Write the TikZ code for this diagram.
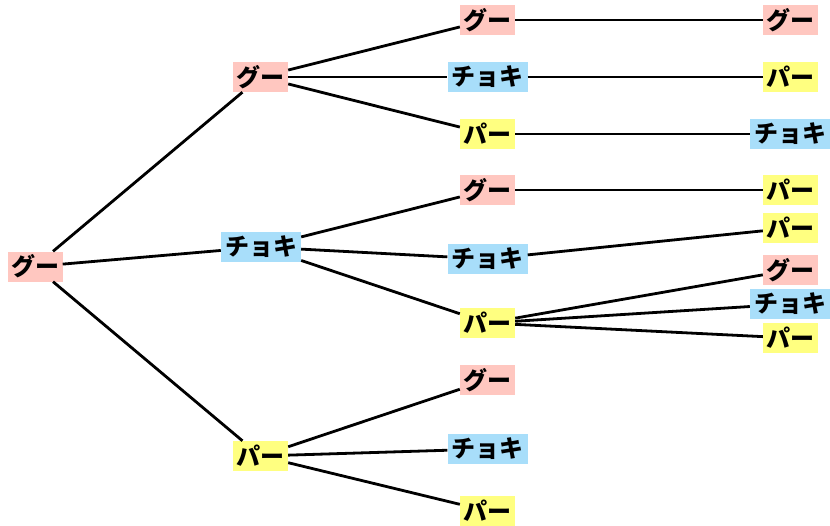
\documentclass[tikz,border=0pt]{standalone}
\usepackage{fontspec}
\newfontfamily\jp{Noto Sans CJK JP}
\definecolor{gpink}{RGB}{255,199,192}
\definecolor{cblue}{RGB}{168,222,250}
\definecolor{pyel}{RGB}{255,255,128}
\tikzset{
  hand/.style={inner sep=0pt, minimum height=30pt, font=\jp\bfseries\fontsize{24}{26}\selectfont, text=black},
  gu/.style={hand, fill=gpink, minimum width=55pt},
  choki/.style={hand, fill=cblue, minimum width=80pt},
  pa/.style={hand, fill=pyel, minimum width=55pt},
  edge/.style={line width=2.8pt, black}
}
\begin{document}
\begin{tikzpicture}[x=1pt,y=-1pt]
\useasboundingbox (0,0) rectangle (830,525);
\node[gu] (r) at (35,266.5) {グー};
\node[gu] (a) at (260.5,77) {グー};
\node[choki] (b) at (261,247) {チョキ};
\node[pa] (c) at (260.5,456) {パー};
\node[gu] (a1) at (487.5,20) {グー};
\node[choki] (a2) at (487.5,77) {チョキ};
\node[pa] (a3) at (487.5,134) {パー};
\node[gu] (b1) at (487.5,190) {グー};
\node[choki] (b2) at (487.5,259) {チョキ};
\node[pa] (b3) at (487.5,323) {パー};
\node[gu] (c1) at (487.5,380) {グー};
\node[choki] (c2) at (487.5,449) {チョキ};
\node[pa] (c3) at (487.5,511) {パー};
\node[gu] (a1x) at (790.5,20) {グー};
\node[pa] (a2x) at (790.5,77) {パー};
\node[choki] (a3x) at (790,134) {チョキ};
\node[pa] (b1x) at (790.5,190) {パー};
\node[pa] (b2x) at (790.5,228) {パー};
\node[gu] (b3g) at (790.5,270) {グー};
\node[choki] (b3c) at (790,304) {チョキ};
\node[pa] (b3p) at (790.5,338) {パー};
\draw[edge] (r) -- (a);
\draw[edge] (r) -- (b);
\draw[edge] (r) -- (c);
\draw[edge] (a) -- (a1);
\draw[edge] (a) -- (a2);
\draw[edge] (a) -- (a3);
\draw[edge] (b) -- (b1);
\draw[edge] (b) -- (b2);
\draw[edge] (b) -- (b3);
\draw[edge] (c) -- (c1);
\draw[edge] (c) -- (c2);
\draw[edge] (c) -- (c3);
\draw[edge] (a1) -- (a1x);
\draw[edge] (a2) -- (a2x);
\draw[edge] (a3) -- (a3x);
\draw[edge] (b1) -- (b1x);
\draw[edge] (b2) -- (b2x);
\draw[edge] (b3) -- (b3g);
\draw[edge] (b3) -- (b3c);
\draw[edge] (b3) -- (b3p);
\end{tikzpicture}
\end{document}
